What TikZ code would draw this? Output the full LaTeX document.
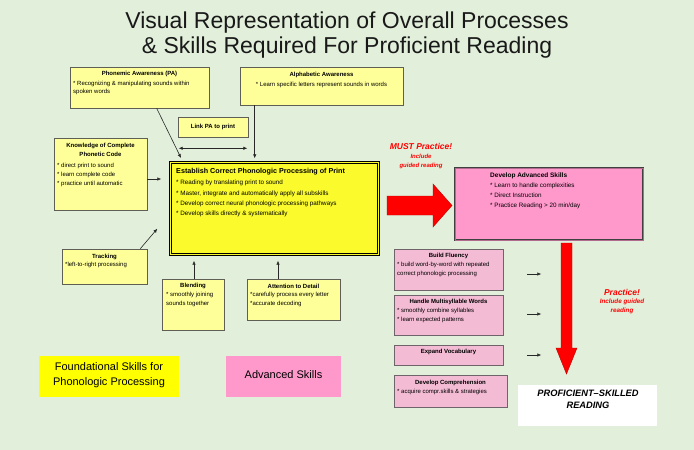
\documentclass[tikz,border=0pt]{standalone}
\usepackage{fontspec}
\setmainfont{Liberation Sans}
\usetikzlibrary{arrows.meta,calc}
\definecolor{bg}{RGB}{226,239,218}
\definecolor{paley}{RGB}{255,255,153}
\definecolor{cy}{RGB}{250,250,45}
\definecolor{ly}{RGB}{255,255,0}
\definecolor{pinkA}{RGB}{255,153,204}
\definecolor{pinkB}{RGB}{244,187,212}
\definecolor{bord}{RGB}{95,95,85}
\definecolor{pbord}{RGB}{110,100,105}
\definecolor{redA}{RGB}{255,0,0}
\definecolor{arrc}{RGB}{40,40,40}
\newcommand\fs[2]{\fontsize{#1}{#2}\selectfont}
\newcommand\mkbox[6]{\node[#2, minimum width={(#5-#3)*1pt}, minimum height={(#6-#4)*1pt}] (#1) at ({(#3+#5)/2},{(#4+#6)/2}) {};}
\tikzset{
  ybox/.style={draw=bord, fill=paley, line width=0.6pt, inner sep=0pt},
  pbox/.style={draw=pbord, fill=pinkB, line width=0.6pt, inner sep=0pt},
  ttl/.style={font=\bfseries\fs{6}{9}, inner sep=0pt, align=center},
  bdy/.style={font=\fs{6}{9}, inner sep=0pt, align=left, anchor=north west},
  arr/.style={draw=arrc, line width=0.6pt, -{Latex[length=4pt,width=3.5pt]}},
  darr/.style={draw=arrc, line width=0.6pt, {Latex[length=4pt,width=3.5pt]}-{Latex[length=4pt,width=3.5pt]}},
  redtxt/.style={text=redA, font=\bfseries\itshape, inner sep=0pt, align=center},
}
\begin{document}
\begin{tikzpicture}[x=1pt,y=-1pt]
\fill[bg] (0,0) rectangle (694,450);
\useasboundingbox (0,0) rectangle (694,450);

% title
\node[font=\fs{23}{25.5}, align=center, inner sep=0pt, text=black!90] (title) at (347,35) {Visual Representation of Overall Processes\\\& Skills Required For Proficient Reading};

% Phonemic awareness
\mkbox{pa}{ybox}{70}{67}{209}{108}
\node[ttl] (pat) at (139.5,74) {Phonemic Awareness (PA)};
\node[bdy, font=\fs{6}{8.5}] (pab) at (73,80.5) {* Recognizing \& manipulating sounds within\\spoken words};

% Alphabetic awareness
\mkbox{aa}{ybox}{240}{67}{403}{105}
\node[ttl] (aat) at (321.5,75) {Alphabetic Awareness};
\node[ttl, font=\fs{6}{9}] (aab) at (321.5,85) {* Learn specific letters represent sounds in words};

% Link PA to print
\mkbox{link}{ybox}{178}{117}{248}{137}
\node[ttl] (linkt) at (213,127) {Link PA to print};

% Knowledge
\mkbox{kn}{ybox}{54}{138}{147}{210}
\node[ttl] (knt) at (100.5,149.5) {Knowledge of Complete\\Phonetic Code};
\node[bdy] (knb) at (57,162.5) {* direct print to sound\\* learn complete code\\* practice until automatic};

% Central box
\node[draw=black, double=cy, double distance=1.1pt, line width=1pt, fill=cy, inner sep=0pt,
  minimum width=208pt, minimum height=92pt] (cen) at (274.5,208.5) {};
\node[font=\bfseries\fs{7.2}{9}, inner sep=0pt, anchor=west] (cent) at (176,172) {Establish Correct Phonologic Processing of Print};
\node[bdy, font=\fs{6.3}{10.3}] (cenb) at (176,180) {* Reading by translating print to sound\\* Master, integrate and automatically apply all subskills\\* Develop correct neural phonologic processing pathways\\* Develop skills directly \& systematically};

% Tracking
\mkbox{tr}{ybox}{62}{249}{147}{284}
\node[ttl] (trt) at (104.5,257) {Tracking};
\node[bdy] (trb) at (65,262) {*left-to-right processing};

% Blending
\mkbox{bl}{ybox}{162}{279}{224}{330}
\node[ttl] (blt) at (193,286) {Blending};
\node[bdy] (blb) at (166,292) {* smoothly joining\\sounds together};

% Attention to detail
\mkbox{ad}{ybox}{247}{279}{340}{320}
\node[ttl] (adt) at (293.5,286) {Attention to Detail};
\node[bdy] (adb) at (250,292) {*carefully process every letter\\*accurate decoding};

% connectors (left cluster)
\draw[arr] ($(pa.south west)+(87,0)$) -- ($(cen.north west)+(11,-4)$);
\draw[arr] ($(aa.south west)+(15,0)$) -- ++(0,53);
\draw[darr] ($(link.south west)+(1,11)$) -- ($(link.south east)+(-1,11)$);
\draw[arr] ($(kn.east)+(0,5)$) -- ++(14,0);
\draw[arr] ($(tr.north east)+(-7,0)$) -- ++(17,-20);
\draw[arr] ($(bl.north)+(1,0)$) -- ++(0,-18);
\draw[arr] ($(ad.north)+(-15.5,0)$) -- ++(0,-18);

% big red arrow right
\filldraw[fill=redA, draw=red!75!black, line width=0.4pt] (387,196) -- (433,196) -- (433,184) -- (452,205.5) -- (433,227) -- (433,215) -- (387,215) -- cycle;
\node[redtxt, font=\bfseries\itshape\fs{8.5}{9}] (must) at (421,146) {MUST Practice!};
\node[redtxt, font=\bfseries\itshape\fs{6}{9}] (mustb) at (421,161) {Include\\guided reading};

% Develop advanced skills
\node[draw=black!75, double=pinkA!70!black, double distance=0.5pt, line width=0.8pt, fill=pinkA, inner sep=0pt,
  minimum width=188pt, minimum height=72pt] (das) at (549,204) {};
\node[font=\bfseries\fs{6.5}{9}, inner sep=0pt, anchor=west] (dast) at (490,176) {Develop Advanced Skills};
\node[bdy, font=\fs{6.3}{10.3}] (dasb) at (490,182.5) {* Learn to handle complexities\\* Direct Instruction\\* Practice Reading > 20 min/day};

% pink sub boxes
\mkbox{bf}{pbox}{394}{249}{503}{290}
\node[ttl] (bft) at (448.5,256) {Build Fluency};
\node[bdy] (bfb) at (397,261.5) {* build word-by-word with repeated\\correct phonologic processing};

\mkbox{hm}{pbox}{394}{295}{503}{335}
\node[ttl] (hmt) at (448.5,302) {Handle Multisyllable Words};
\node[bdy] (hmb) at (397,307.5) {* smoothly combine syllables\\* learn expected patterns};

\mkbox{ev}{pbox}{394}{345}{503}{365}
\node[ttl] (evt) at (448.5,352) {Expand Vocabulary};

\mkbox{dc}{pbox}{394}{375}{507}{407}
\node[ttl] (dct) at (450.5,383) {Develop Comprehension};
\node[bdy] (dcb) at (397,388.5) {* acquire compr.skills \& strategies};

% small arrows
\draw[arr] ($(bf.east)+(24,4.5)$) -- ++(14,0);
\draw[arr] ($(hm.east)+(24,-1)$) -- ++(14,0);
\draw[arr] ($(ev.east)+(24,0)$) -- ++(14,0);

% big red arrow down
\filldraw[fill=redA, draw=red!75!black, line width=0.4pt] (561,243) -- (572,243) -- (572,348) -- (577,348) -- (566.5,374) -- (556,348) -- (561,348) -- cycle;
\node[redtxt, font=\bfseries\itshape\fs{8.5}{9}] (prac) at (622,292) {Practice!};
\node[redtxt, font=\bfseries\itshape\fs{6.3}{9}] (pracb) at (622,306.5) {Include guided\\reading};

% proficient
\mkbox{prof}{fill=white, inner sep=0pt}{518}{385}{657}{426}
\node[font=\bfseries\itshape\fs{9.3}{12}, align=center, inner sep=0pt] (proft) at (588,399) {PROFICIENT–SKILLED\\READING};

% legends
\mkbox{lg1}{fill=ly, inner sep=0pt}{39}{356}{179}{397}
\node[font=\fs{11}{15}, align=center, inner sep=0pt] (lg1t) at (109,375) {Foundational Skills for\\Phonologic Processing};
\mkbox{lg2}{fill=pinkA, inner sep=0pt}{226}{356}{341}{397}
\node[font=\fs{11}{15}, inner sep=0pt] (lg2t) at (283.5,375) {Advanced Skills};
\end{tikzpicture}
\end{document}
